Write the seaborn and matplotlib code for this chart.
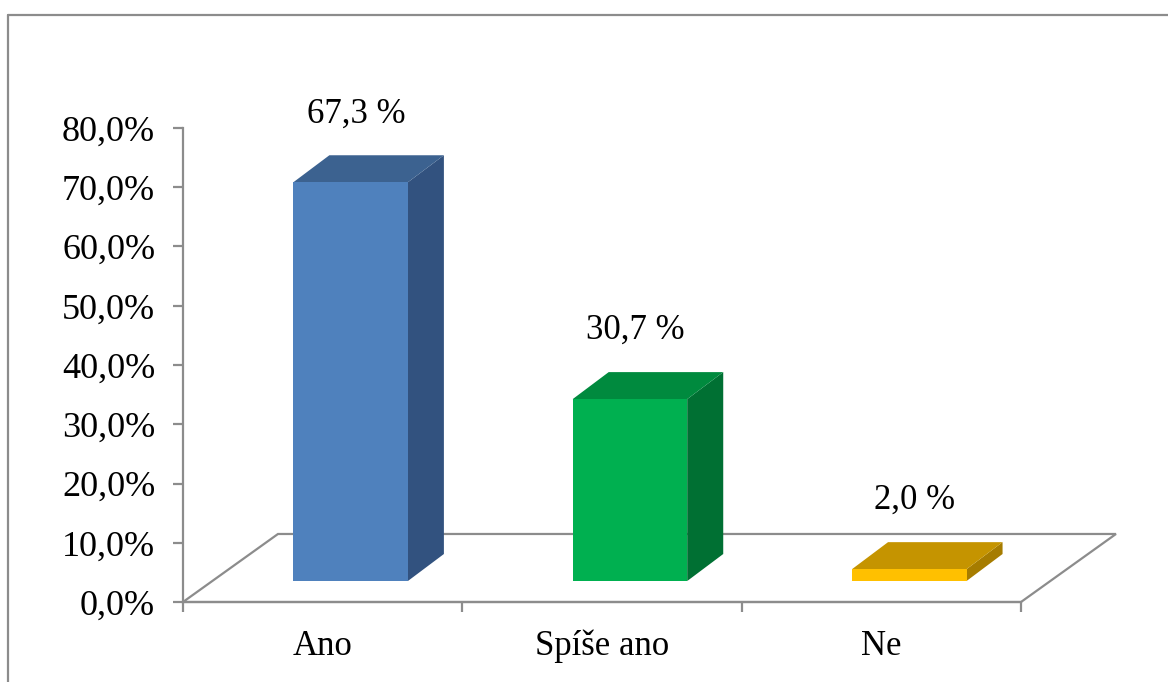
import seaborn as sns
import matplotlib.pyplot as plt
from matplotlib.patches import Polygon
from matplotlib.lines import Line2D
from matplotlib.ticker import FuncFormatter, FixedLocator

categories = ['Ano', 'Spíše ano', 'Ne']
values = [67.3, 30.7, 2.0]
labels = ['67,3 %', '30,7 %', '2,0 %']
front_colors = ['#4F81BD', '#00B050', '#FFC000']
top_colors = ['#3C6290', '#008A3E', '#C59400']
side_colors = ['#32527F', '#007033', '#A67C00']

sns.set_style('white')
plt.rcParams['font.family'] = ['Liberation Serif', 'DejaVu Serif']

fig = plt.figure(figsize=(11.68, 6.82), dpi=100)
ax = fig.add_axes([183/1168, 80/682, 838/1168, 474/682])
ax.set_facecolor('none')

# posun přední stěny sloupce do hloubky a hloubka sloupce (v jednotkách os)
shift_x, shift_y = 0.100, 3.54
depth_x, depth_y = 0.129, 4.56
floor_x, floor_y = 0.340, 11.48

grey = '#8C8C8C'

# podlaha
floor = Polygon([(-0.5, 0), (2.5, 0), (2.5 + floor_x, floor_y), (-0.5 + floor_x, floor_y)],
                closed=True, facecolor='white', edgecolor=grey, lw=1.6, clip_on=False, zorder=1)
ax.add_patch(floor)

sns.barplot(x=categories, y=values, hue=categories, palette=front_colors, legend=False,
            width=0.41, saturation=1, ax=ax, zorder=3)

bars = sorted(ax.patches[1:], key=lambda p: p.get_x())
for i, bar in enumerate(bars):
    bar.set_x(bar.get_x() + shift_x)
    bar.set_y(shift_y)
    bar.set_linewidth(0)
    x0 = bar.get_x()
    x1 = x0 + bar.get_width()
    b = shift_y
    t = shift_y + bar.get_height()
    side = Polygon([(x1, b), (x1, t), (x1 + depth_x, t + depth_y), (x1 + depth_x, b + depth_y)],
                   closed=True, facecolor=side_colors[i], lw=0, zorder=2, clip_on=False)
    top = Polygon([(x0, t), (x0 + depth_x, t + depth_y), (x1 + depth_x, t + depth_y), (x1, t)],
                  closed=True, facecolor=top_colors[i], lw=0, zorder=2, clip_on=False)
    ax.add_patch(side)
    ax.add_patch(top)
    ax.text((x0 + x1) / 2 + 0.02, t + depth_y + 7.0, labels[i], ha='center', va='center',
            fontsize=25, color='black')

ax.set_xlim(-0.5, 2.5)
ax.set_ylim(0, 80)
ax.set_yticks(range(0, 81, 10))
ax.yaxis.set_major_formatter(FuncFormatter(lambda v, p: f'{v:.1f}%'.replace('.', ',')))
ax.xaxis.set_minor_locator(FixedLocator([-0.5, 0.5, 1.5, 2.5]))

for s in ['top', 'right']:
    ax.spines[s].set_visible(False)
for s in ['left', 'bottom']:
    ax.spines[s].set_color(grey)
    ax.spines[s].set_linewidth(1.6)

ax.tick_params(axis='y', which='major', left=True, length=7, width=1.6, color=grey,
               direction='out', labelsize=26, pad=13, labelcolor='black')
ax.tick_params(axis='x', which='major', bottom=True, length=0, labelsize=25, pad=20,
               labelcolor='black')
ax.tick_params(axis='x', which='minor', bottom=True, length=7, width=1.6, color=grey,
               direction='out')
ax.set_xlabel('')
ax.set_ylabel('')

# rámeček grafu
fig.add_artist(Line2D([8/1168, 1], [1 - 15/682, 1 - 15/682], color=grey, lw=1.6))
fig.add_artist(Line2D([8/1168, 8/1168], [0, 1 - 15/682], color=grey, lw=1.6))

fig.savefig('out.png', dpi=100)
